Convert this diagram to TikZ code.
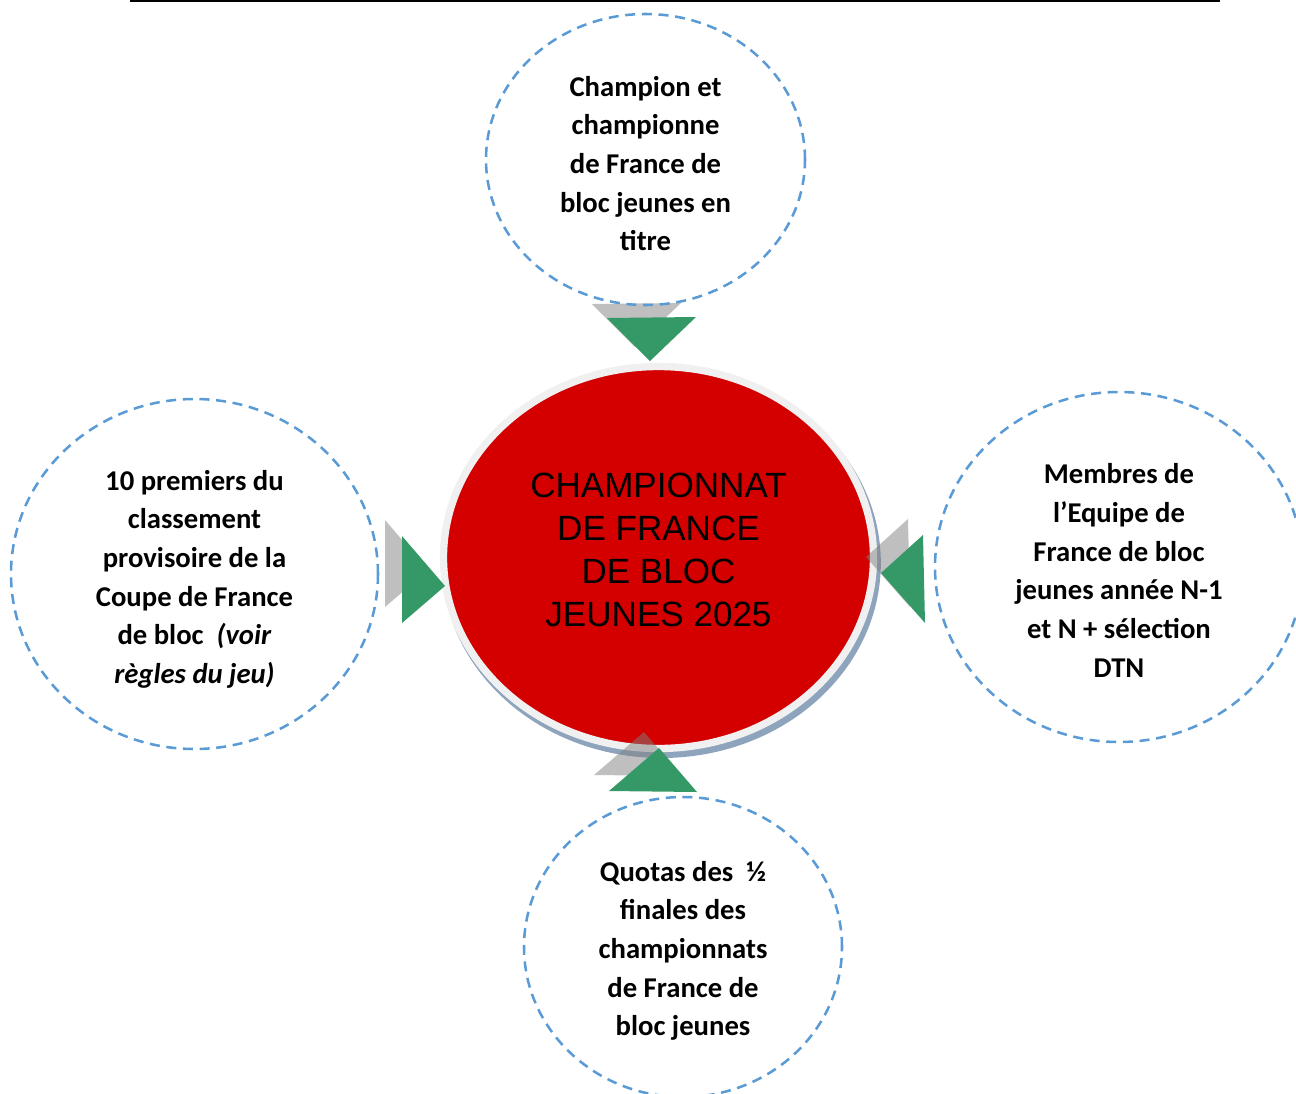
\documentclass[tikz,border=0pt]{standalone}
\usepackage{fontspec}
\setmainfont{Carlito}
\newfontfamily\arialfont{Liberation Sans}
\usepackage{tikz}
\usetikzlibrary{shapes.geometric}
\definecolor{bleu}{RGB}{91,155,213}
\definecolor{vert}{RGB}{53,152,103}
\definecolor{rouge}{RGB}{212,0,0}
\definecolor{anneau}{RGB}{240,240,240}
\definecolor{ombre}{RGB}{142,164,189}
\tikzset{bulle/.style={ellipse, draw=bleu, dash pattern=on 7.5pt off 5pt, line width=1.9pt, inner sep=0pt},
  texte/.style={align=center, font=\fontsize{21.5}{29}\selectfont\bfseries},
  fleche/.style={fill=vert},
  fantome/.style={fill=gray, fill opacity=0.5}}

\begin{document}
\begin{tikzpicture}[x=0.75pt, y=-0.75pt]
\useasboundingbox (0,0) rectangle (1296,1093);
\draw[line width=1.6pt] (130,1) -- (1220,1);
\node[ellipse, fill=ombre, inner sep=0pt, minimum width=329pt, minimum height=292.5pt] (C0S) at (661.5,563) {};
\node[ellipse, fill=rouge, draw=anneau, line width=5.5pt, inner sep=0pt, minimum width=322.5pt, minimum height=286.5pt] (C0) at (658.5,557.5) {};
\node[align=center, font=\arialfont\fontsize{26.3}{32.25}\selectfont] (C0T) at ([yshift=6pt]C0.center) {CHAMPIONNAT\\DE FRANCE\\DE BLOC\\JEUNES 2025};
% ombres des fleches
\fill[fantome] (592,304) -- (681,303) -- (635,347) -- cycle;
\fill[fantome] (385,520) -- (385,607) -- (428,570) -- cycle;
\fill[fantome] (908,519) -- (910,607) -- (866,557) -- cycle;
\fill[fantome] (644,732) -- (594,775) -- (682,776) -- cycle;
% fleches
\fill[fleche] (607,318) -- (696,317) -- (650,361) -- cycle;
\fill[fleche] (402,536) -- (402,623) -- (445,586) -- cycle;
\fill[fleche] (923,535) -- (925,623) -- (881,573) -- cycle;
\fill[fleche] (659,748) -- (609,791) -- (697,792) -- cycle;
% bulles
\node[bulle, minimum width=239.25pt, minimum height=218.25pt] (B1) at (645.5,159.5) {};
\node[bulle, minimum width=276pt, minimum height=262.5pt] (B2) at (1119,567) {};
\node[bulle, minimum width=238.5pt, minimum height=225pt] (B3) at (683,947) {};
\node[bulle, minimum width=275.25pt, minimum height=262.5pt] (B4) at (194.5,574) {};
\node[texte] (B1T) at ([yshift=-3pt]B1.center) {Champion et\\championne\\de France de\\bloc jeunes en\\titre};
\node[texte] (B2T) at ([yshift=-2.5pt]B2.center) {Membres de\\l’Equipe de\\France de bloc\\jeunes année N-1\\et N + sélection\\DTN};
\node[texte] (B3T) at ([yshift=-3pt]B3.center) {Quotas des \ ½\\finales des\\championnats\\de France de\\bloc jeunes};
\node[texte] (B4T) at ([yshift=-4pt]B4.center) {10 premiers du\\classement\\provisoire de la\\Coupe de France\\de bloc \ \textit{(voir}\\\textit{règles du jeu)}};
\end{tikzpicture}
\end{document}
